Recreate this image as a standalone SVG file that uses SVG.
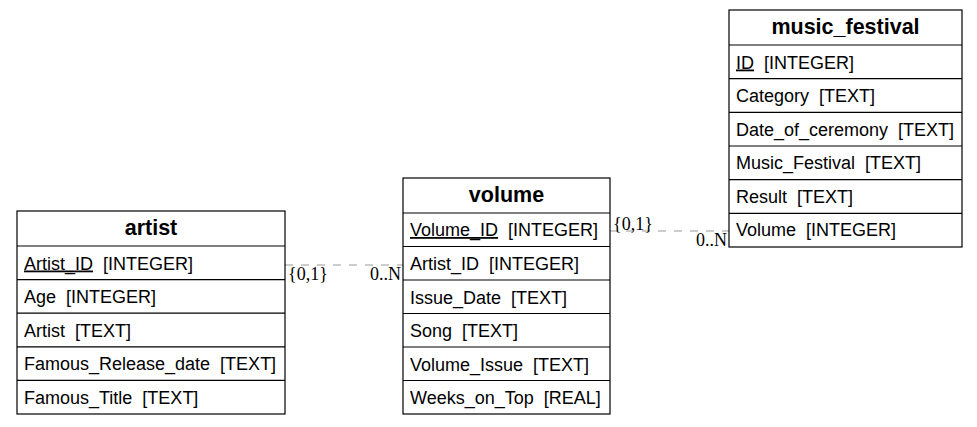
<svg xmlns="http://www.w3.org/2000/svg" width="977" height="427" viewBox="0 0 977 427">
<style>
.box{fill:#fff;stroke:#000;stroke-width:1.2}
.sep{stroke:#000;stroke-width:1.2}
.hd{font-family:"Liberation Sans",Arial,sans-serif;font-size:21.5px;font-weight:bold;text-anchor:middle;fill:#000}
.f{font-family:"Liberation Sans",Arial,sans-serif;font-size:18px;fill:#000;white-space:pre}
.pk{text-decoration:underline}
.conn{stroke:#999;stroke-width:1.2;stroke-dasharray:8,8;fill:none}
.card{font-family:"Liberation Serif","Times New Roman",serif;font-size:18px;fill:#000}
</style>
<rect width="977" height="427" fill="#fff"/>
<g id="connectors">
<line class="conn" x1="285" y1="265" x2="403" y2="265"/>
<text class="card" x="288" y="280">{0,1}</text>
<text class="card" x="401" y="280" text-anchor="end">0..N</text>
<line class="conn" x1="610" y1="231" x2="729" y2="231"/>
<text class="card" x="613" y="230">{0,1}</text>
<text class="card" x="727" y="246" text-anchor="end">0..N</text>
</g>
<g id="artist">
<rect class="box" x="17" y="211" width="268" height="203"/>
<line class="sep" x1="17" y1="246" x2="285" y2="246"/>
<line class="sep" x1="17" y1="279.6" x2="285" y2="279.6"/>
<line class="sep" x1="17" y1="313.2" x2="285" y2="313.2"/>
<line class="sep" x1="17" y1="346.8" x2="285" y2="346.8"/>
<line class="sep" x1="17" y1="380.4" x2="285" y2="380.4"/>
<text class="hd" x="151" y="235">artist</text>
<text class="f" x="24" y="269.5"><tspan class="pk">Artist_ID</tspan>  [INTEGER]</text>
<text class="f" x="24" y="303">Age  [INTEGER]</text>
<text class="f" x="24" y="336.5">Artist  [TEXT]</text>
<text class="f" x="24" y="370">Famous_Release_date  [TEXT]</text>
<text class="f" x="24" y="403.5">Famous_Title  [TEXT]</text>
</g>
<g id="volume">
<rect class="box" x="403" y="178" width="207" height="236"/>
<line class="sep" x1="403" y1="213" x2="610" y2="213"/>
<line class="sep" x1="403" y1="246.5" x2="610" y2="246.5"/>
<line class="sep" x1="403" y1="280" x2="610" y2="280"/>
<line class="sep" x1="403" y1="313.5" x2="610" y2="313.5"/>
<line class="sep" x1="403" y1="347" x2="610" y2="347"/>
<line class="sep" x1="403" y1="380.5" x2="610" y2="380.5"/>
<text class="hd" x="506.5" y="202">volume</text>
<text class="f" x="410" y="236"><tspan class="pk">Volume_ID</tspan>  [INTEGER]</text>
<text class="f" x="410" y="270">Artist_ID  [INTEGER]</text>
<text class="f" x="410" y="303.5">Issue_Date  [TEXT]</text>
<text class="f" x="410" y="337">Song  [TEXT]</text>
<text class="f" x="410" y="370.5">Volume_Issue  [TEXT]</text>
<text class="f" x="410" y="404">Weeks_on_Top  [REAL]</text>
</g>
<g id="music_festival">
<rect class="box" x="729" y="10" width="233" height="237"/>
<line class="sep" x1="729" y1="45" x2="962" y2="45"/>
<line class="sep" x1="729" y1="78.7" x2="962" y2="78.7"/>
<line class="sep" x1="729" y1="112.3" x2="962" y2="112.3"/>
<line class="sep" x1="729" y1="146" x2="962" y2="146"/>
<line class="sep" x1="729" y1="179.7" x2="962" y2="179.7"/>
<line class="sep" x1="729" y1="213.3" x2="962" y2="213.3"/>
<text class="hd" x="845.5" y="34">music_festival</text>
<text class="f" x="736" y="68.5"><tspan class="pk">ID</tspan>  [INTEGER]</text>
<text class="f" x="736" y="102">Category  [TEXT]</text>
<text class="f" x="736" y="135.5">Date_of_ceremony  [TEXT]</text>
<text class="f" x="736" y="169">Music_Festival  [TEXT]</text>
<text class="f" x="736" y="202.5">Result  [TEXT]</text>
<text class="f" x="736" y="236">Volume  [INTEGER]</text>
</g>
</svg>
